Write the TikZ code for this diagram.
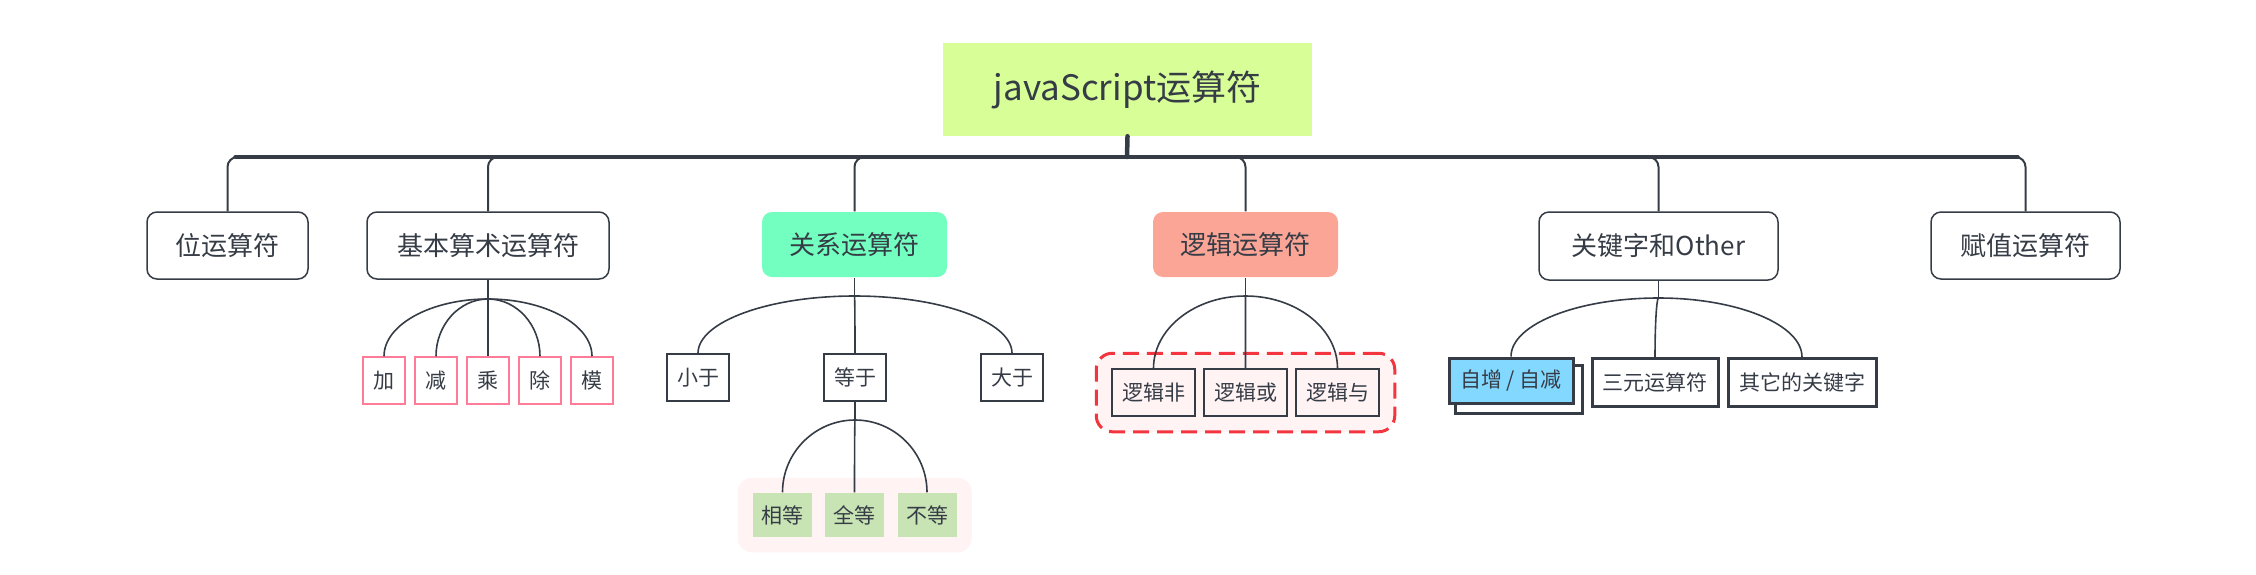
\documentclass[tikz,border=0pt]{standalone}
\usepackage{fontspec}
\newfontfamily\cjk{Noto Sans CJK SC}
\usetikzlibrary{positioning, calc, fit, backgrounds}
\definecolor{ink}{HTML}{363C46}
\definecolor{rootfill}{HTML}{D7FE97}
\definecolor{relfill}{HTML}{72FFBF}
\definecolor{logicfill}{HTML}{FBA597}
\definecolor{eqfill}{HTML}{C9E4B4}
\definecolor{groupfill}{HTML}{FFF3F4}
\definecolor{pinkline}{HTML}{FF7C98}
\definecolor{dashred}{HTML}{F3353F}
\definecolor{incfill}{HTML}{82D8FF}

\begin{document}
\begin{tikzpicture}[x=1pt, y=-1pt, text=ink,
    rootbox/.style={fill=rootfill, inner sep=0pt, minimum width=369pt, minimum height=93pt,
        font=\cjk\fontsize{35}{40}\selectfont},
    topic/.style={draw=ink, line width=1.5pt, rounded corners=10pt, inner sep=0pt,
        minimum height=67pt, font=\cjk\fontsize{26}{30}\selectfont},
    filledtopic/.style={topic, draw=none, minimum height=65pt},
    leaf/.style={draw=ink, line width=1.5pt, inner sep=0pt, minimum height=47pt,
        font=\cjk\fontsize{21}{25}\selectfont},
    pinkleaf/.style={leaf, draw=pinkline, minimum width=42pt},
    eqleaf/.style={leaf, draw=none, fill=eqfill, minimum width=59pt, minimum height=44pt},
    boldleaf/.style={leaf, line width=3pt, minimum height=48pt},
    bar/.style={draw=ink, line width=4.5pt, line cap=round},
    drop/.style={draw=ink, line width=2pt, rounded corners=10pt},
    link/.style={draw=ink, line width=1.6pt}]

    \useasboundingbox (0,0) rectangle (2256,574);

    % --- Root ---
    \node[rootbox] (root) at (1127.5, 89.5) {javaScript运算符};
    \coordinate (hub) at (1127, 157);

    % --- Main topics ---
    \node[topic, minimum width=161pt] (bit) at (227.5, 245.5) {位运算符};
    \node[topic, minimum width=242pt] (basic) at (488, 245.5) {基本算术运算符};
    \node[filledtopic, fill=relfill, minimum width=185pt] (rel) at (854.5, 244.5) {关系运算符};
    \node[filledtopic, fill=logicfill, minimum width=185pt] (logic) at (1245.5, 244.5) {逻辑运算符};
    \node[topic, minimum width=239pt, minimum height=68pt] (kw) at (1658.5, 246) {关键字和Other};
    \node[topic, minimum width=189pt] (assign) at (2025.5, 245.5) {赋值运算符};

    % --- Bar and drops ---
    \draw[bar] (root.south) -- (hub);
    \draw[bar] ([xshift=8pt]bit.north |- hub) -- ([xshift=-8pt]assign.north |- hub);
    \foreach \n in {bit, basic, rel, logic, kw, assign} {
        \draw[drop] (hub) -| (\n.north);
    }

    % --- Arithmetic leaves ---
    \foreach \n/\lab/\x in {add/加/384, sub/减/436, mul/乘/488, div/除/540, mod/模/592} {
        \node[pinkleaf] (\n) at (\x, 380.5) {\lab};
    }
    \coordinate (basicj) at (488, 299);
    \draw[link] (basic.south) -- (basicj);
    \foreach \n in {add, sub, mul, div, mod} {
        \draw[link] (basicj) .. controls ($(basicj)!0.55!(basicj -| \n.north)$)
            and ($(\n.north)!0.55!(basicj -| \n.north)$) .. (\n.north);
    }

    % --- Relation leaves ---
    \node[leaf, minimum width=62pt] (less) at (698, 377.5) {小于};
    \node[leaf, minimum width=62pt] (equal) at (855, 377.5) {等于};
    \node[leaf, minimum width=62pt] (greater) at (1012, 377.5) {大于};
    \coordinate (relj) at (854.5, 296);
    \draw[link] (rel.south) -- (relj);
    \foreach \n in {less, equal, greater} {
        \draw[link] (relj) .. controls ($(relj)!0.55!(relj -| \n.north)$)
            and ($(\n.north)!0.55!(relj -| \n.north)$) .. (\n.north);
    }

    % equality group
    \node[eqleaf] (same) at (782.5, 515) {相等};
    \node[eqleaf] (full) at (854.5, 515) {全等};
    \node[eqleaf] (noteq) at (927, 515) {不等};
    \begin{scope}[on background layer]
        \node[fit=(same)(full)(noteq), inner sep=14.5pt, fill=groupfill, rounded corners=14pt] (eqgroup) {};
    \end{scope}
    \coordinate (eqj) at (855, 420);
    \draw[link] (equal.south) -- (eqj);
    \foreach \n in {same, full, noteq} {
        \draw[link] (eqj) .. controls ($(eqj)!0.55!(eqj -| \n.north)$)
            and ($(\n.north)!0.55!(eqj -| \n.north)$) .. (\n.north);
    }

    % --- Logic leaves ---
    \node[leaf, fill=groupfill, minimum width=83pt] (lnot) at (1153.5, 392.5) {逻辑非};
    \node[leaf, fill=groupfill, minimum width=83pt] (lor) at (1245.5, 392.5) {逻辑或};
    \node[leaf, fill=groupfill, minimum width=83pt] (land) at (1337.5, 392.5) {逻辑与};
    \begin{scope}[on background layer]
        \node[fit=(lnot)(lor)(land), inner sep=15pt, fill=groupfill, draw=dashred,
            line width=3pt, dash pattern=on 16pt off 8pt, rounded corners=16pt] (logicgroup) {};
    \end{scope}
    \coordinate (logicj) at (1245.5, 296);
    \draw[link] (logic.south) -- (logicj);
    \foreach \n in {lnot, lor, land} {
        \draw[link] (logicj) .. controls ($(logicj)!0.55!(logicj -| \n.north)$)
            and ($(\n.north)!0.55!(logicj -| \n.north)$) .. (\n.north);
    }

    % --- Keyword leaves ---
    \node[boldleaf, fill=incfill, minimum width=124pt, minimum height=45pt] (inc) at (1511, 380.5) {自增 / 自减};
    \node[boldleaf, minimum width=126pt] (ternary) at (1655, 382.5) {三元运算符};
    \node[boldleaf, minimum width=148pt] (otherkw) at (1802, 382.5) {其它的关键字};
    \begin{scope}[on background layer]
        \draw[ink, fill=white, line width=3pt] ([shift={(8,9)}]inc.north west) rectangle ([shift={(8,9)}]inc.south east);
    \end{scope}
    \coordinate (kwj) at (1658.5, 298);
    \draw[link] (kw.south) -- (kwj);
    \foreach \n in {inc, ternary, otherkw} {
        \draw[link] (kwj) .. controls ($(kwj)!0.55!(kwj -| \n.north)$)
            and ($(\n.north)!0.55!(kwj -| \n.north)$) .. (\n.north);
    }

\end{tikzpicture}
\end{document}
